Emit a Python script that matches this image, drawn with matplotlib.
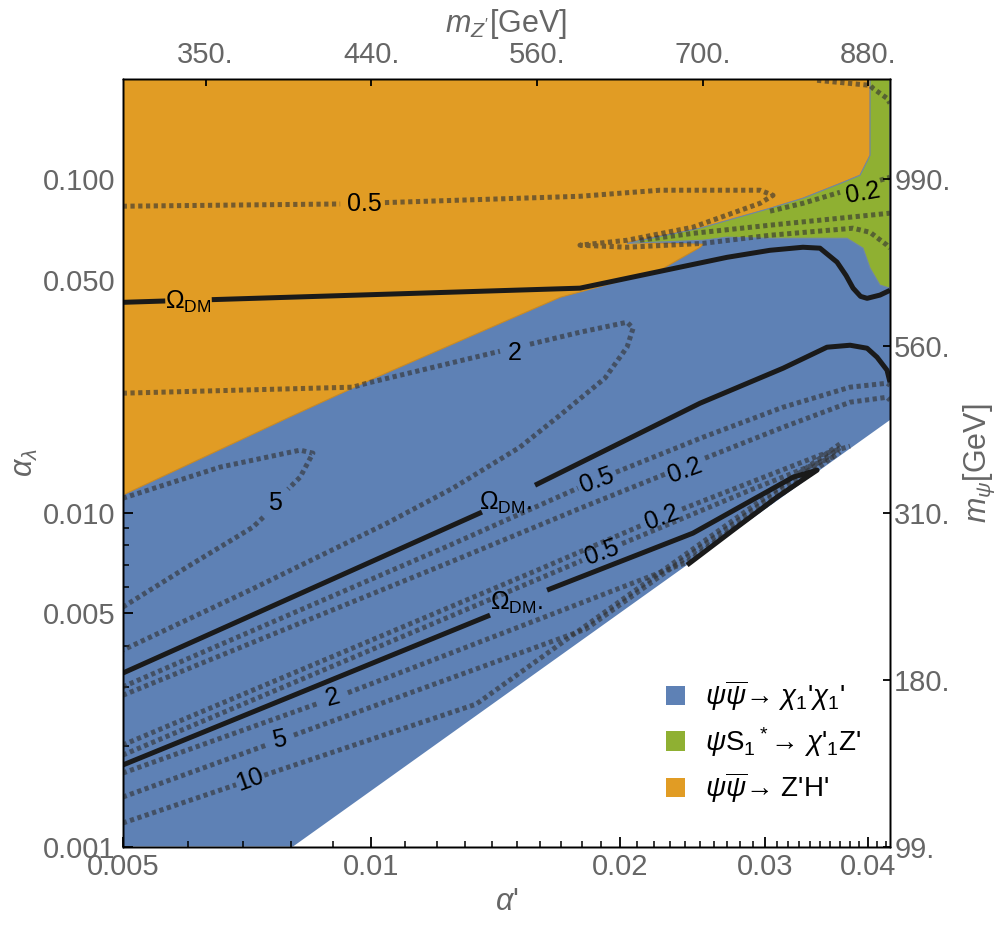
import numpy as np
import matplotlib
matplotlib.use("Agg")
import matplotlib.pyplot as plt
from matplotlib.patches import Patch
from matplotlib.ticker import NullFormatter, NullLocator

plt.rcParams["font.family"] = ["Liberation Sans", "DejaVu Sans"]
plt.rcParams["mathtext.fontset"] = "custom"
plt.rcParams["mathtext.rm"] = "Liberation Sans"
plt.rcParams["mathtext.it"] = "Liberation Sans:italic"
plt.rcParams["mathtext.bf"] = "Liberation Sans:bold"

nan = np.nan

# plot range (alpha', alpha_lambda)
x_range = (0.005, 0.0425)
y_range = (0.001, 0.2)

# lower edge of the computed domain (white below it)
edge_x = [0.00804, 0.0425]
edge_y = [0.001, 0.0190]

# Z'H' region (orange)
orange_x = [0.005, 0.0402, 0.0402, 0.03909, 0.03728, 0.03334, 0.03041, 0.02502, 0.02041,
            0.02523, 0.02502, 0.02237, 0.01693, 0.00996, 0.00791, 0.005]
orange_y = [0.2, 0.2, 0.1181, 0.1029, 0.0980, 0.0878, 0.0819, 0.0714, 0.0648,
            0.0639, 0.0626, 0.0534, 0.0443, 0.0250, 0.01924, 0.01131]

# psi S1* -> chi'1 Z' region (green)
green_x = [0.0402, 0.0425, 0.0425, 0.04133, 0.0402, 0.03942, 0.0377, 0.03041, 0.02698,
           0.02523, 0.02041, 0.02502, 0.03041, 0.03334, 0.03728, 0.03909, 0.0402]
green_y = [0.2, 0.2, 0.0472, 0.0482, 0.0542, 0.0622, 0.0666, 0.0666, 0.0671,
           0.0657, 0.0643, 0.0714, 0.0819, 0.0878, 0.0980, 0.1029, 0.1181]

# Omega_DM contours (nan = gap for the label)
omega_a_x = [0.005, 0.00563, nan, 0.00641, 0.0179, 0.02237, 0.02698, 0.03041, 0.03334,
             0.03496, 0.03666, 0.0376, 0.03834, 0.03915, 0.03987, 0.04133, 0.0425]
omega_a_y = [0.0428, 0.0432, nan, 0.0436, 0.0472, 0.0530, 0.0584, 0.0613, 0.0626,
             0.0622, 0.0565, 0.0515, 0.0472, 0.0446, 0.0440, 0.0450, 0.0465]
omega_b_x = [0.005, 0.01362, nan, 0.01579, 0.0200, 0.02502, 0.03154, 0.03565, 0.03802,
             0.03987, 0.04099, 0.04215, 0.0425]
omega_b_y = [0.00331, 0.01006, nan, 0.01211, 0.01619, 0.02133, 0.02716, 0.0314, 0.03183,
             0.03118, 0.02931, 0.02679, 0.02466]
omega_c_x = [0.005, 0.01393, nan, 0.01633, 0.02453, 0.03243, 0.03468, 0.03101, 0.02743, 0.02413]
omega_c_y = [0.001755, 0.00494, nan, 0.00587, 0.0087, 0.0128, 0.01344, 0.01115, 0.00888, 0.00698]
omega_labels = [("$\\Omega_{\\rm DM}$", 0.0060, 0.0428),
                ("$\\Omega_{\\rm DM}$.", 0.01456, 0.0107),
                ("$\\Omega_{\\rm DM}$.", 0.01502, 0.00537)]

# ratio contours (dotted)
top_x = [0.005, 0.00917, nan, 0.01039, 0.0179, 0.02237, 0.02958, 0.03067, 0.02958, 0.02453,
         0.02041, 0.0179, 0.02041, 0.02523, 0.03041, 0.03834, 0.0402, 0.04215, 0.0425]
top_y = [0.0831, 0.0844, nan, 0.0852, 0.0890, 0.0928, 0.0928, 0.0896, 0.0848, 0.0719,
         0.0657, 0.0635, 0.0626, 0.0643, 0.0680, 0.0714, 0.0694, 0.0635, 0.0622]
green1_x = [0.02116, 0.02453, 0.03041, 0.0425]
green1_y = [0.0657, 0.0689, 0.0729, 0.0792]
green2_x = [0.03041, 0.03334, 0.03697, nan, 0.04133, 0.0425]
green2_y = [0.0803, 0.0848, 0.0915, nan, 0.0994, 0.1015]
corner_x = [0.03468, 0.0402, 0.04053, 0.04215, 0.0425]
corner_y = [0.1982, 0.1914, 0.1875, 0.1750, 0.1691]
loop2_x = [0.005, 0.0095, 0.00988, 0.01432, nan, 0.01557, 0.0179, 0.02041, 0.02076, 0.02041,
           0.01919, 0.01693, 0.01514, 0.01256, 0.01045, 0.00713, 0.005]
loop2_y = [0.02286, 0.02383, 0.02449, 0.03054, nan, 0.03205, 0.03482, 0.0373, 0.0358, 0.0314,
           0.02535, 0.01964, 0.01575, 0.01187, 0.00932, 0.00587, 0.00388]
loop5_x = [0.005, 0.00656, 0.0082, 0.0085, 0.0082, 0.00793, nan, 0.0074, 0.00719, 0.00598, 0.005]
loop5_y = [0.01107, 0.01372, 0.01543, 0.01511, 0.0128, 0.01179, nan, 0.00971, 0.00907, 0.00688, 0.00522]
mid05_x = [0.005, 0.01246, 0.0178, nan, 0.01979, 0.02523, 0.03154, 0.03802, 0.04215, 0.0425]
mid05_y = [0.00301, 0.00801, 0.01187, nan, 0.01325, 0.01687, 0.02075, 0.02383, 0.02449, 0.02415]
mid02_x = [0.005, 0.01246, 0.01805, 0.02269, nan, 0.02537, 0.03154, 0.03802, 0.04215, 0.0425]
mid02_y = [0.00284, 0.00712, 0.01041, 0.01307, nan, 0.0146, 0.01807, 0.02148, 0.02223, 0.02178]
low02_x = [0.005, 0.01601, 0.02128, nan, 0.0238, 0.03496, 0.03802]
low02_y = [0.002015, 0.00679, 0.00919, nan, 0.01027, 0.0149, 0.01586]
low05_x = [0.005, 0.018, nan, 0.02013, 0.02876, 0.03646]
low05_y = [0.00188, 0.0072, nan, 0.00809, 0.0117, 0.0148]
low2_x = [0.005, 0.00862, nan, 0.00937, 0.02413, 0.03697]
low2_y = [0.00166, 0.002685, nan, 0.00289, 0.00712, 0.01525]
low5_x = [0.005, 0.00746, nan, 0.00806, 0.0182, 0.03697]
low5_y = [0.001407, 0.002013, nan, 0.002158, 0.004486, 0.01567]
low10_x = [0.005, 0.00686, nan, 0.00742, 0.0134, 0.03697]
low10_y = [0.001176, 0.001532, nan, 0.001636, 0.002673, 0.01611]

# contour labels: text, alpha', alpha_lambda, rotation
ratio_labels = [("0.5", 0.0098, 0.0846, 0), ("2", 0.01494, 0.0301, 0),
                ("5", 0.00765, 0.0107, 0), ("0.5", 0.01877, 0.01254, 20),
                ("0.2", 0.0240, 0.01344, 20), ("0.2", 0.0225, 0.00971, 20),
                ("0.5", 0.01904, 0.00763, 20), ("2", 0.00899, 0.00279, 15),
                ("5", 0.00775, 0.002085, 12), ("10", 0.00713, 0.001583, 20),
                ("0.2", 0.03942, 0.0909, 10)]

# axis ticks
x_ticks = [0.005, 0.01, 0.02, 0.03, 0.04]
x_ticklabels = ["0.005", "0.01", "0.02", "0.03", "0.04"]
y_ticks = [0.001, 0.005, 0.01, 0.05, 0.1]
y_ticklabels = ["0.001", "0.005", "0.010", "0.050", "0.100"]
mz_ticks = [0.0063, 0.01, 0.01587, 0.0252, 0.04]
mz_labels = ["350.", "440.", "560.", "700.", "880."]
mpsi_ticks = [0.001, 0.00316, 0.01, 0.0316, 0.1]
mpsi_labels = ["99.", "180.", "310.", "560.", "990."]

legend_labels = ["$\\psi\\overline{\\psi}$\u2192 $\\chi_1$'$\\chi_1$'",
                 "$\\psi$S$_1$$^*$\u2192 $\\chi$'$_1$Z'",
                 "$\\psi\\overline{\\psi}$\u2192 Z'H'"]

blue = "#5e81b5"
green = "#8fb032"
orange = "#e19c24"
gray = "#666666"

fig = plt.figure(figsize=(10, 9.27), dpi=100)
ax = fig.add_axes([0.1227, 0.0868, 0.7673, 0.8280])
ax.set_xscale("log")
ax.set_yscale("log")

# regions
blue_x = [x_range[0], edge_x[0], edge_x[1], x_range[1], x_range[0]]
blue_y = [y_range[0], edge_y[0], edge_y[1], y_range[1], y_range[1]]
ax.fill(blue_x, blue_y, color=blue, lw=0, zorder=1)
ax.fill(orange_x, orange_y, facecolor=orange, edgecolor="#c98a24", lw=0.8, zorder=2)
ax.fill(green_x, green_y, facecolor=green, edgecolor="#6f86a8", lw=0.8, zorder=2)

dot = dict(color="#333333", alpha=0.62, lw=3.6, linestyle=(0, (0.85, 0.7)),
           dash_capstyle="butt", zorder=3)
for xs, ys in [(top_x, top_y), (green1_x, green1_y), (green2_x, green2_y),
               (corner_x, corner_y), (loop2_x, loop2_y), (loop5_x, loop5_y),
               (mid05_x, mid05_y), (mid02_x, mid02_y), (low02_x, low02_y),
               (low05_x, low05_y), (low2_x, low2_y), (low5_x, low5_y),
               (low10_x, low10_y)]:
    ax.plot(xs, ys, **dot)

for xs, ys in [(omega_a_x, omega_a_y), (omega_b_x, omega_b_y), (omega_c_x, omega_c_y)]:
    ax.plot(xs, ys, color="#1a1a1a", lw=3.6, solid_capstyle="butt",
            solid_joinstyle="round", zorder=4)

for txt, xv, yv in omega_labels:
    ax.text(xv, yv, txt, fontsize=18, ha="center", va="center", color="black", zorder=5)
for txt, xv, yv, rot in ratio_labels:
    ax.text(xv, yv, txt, fontsize=18, ha="center", va="center", rotation=rot,
            rotation_mode="anchor", color="black", zorder=5)

ax.set_xlim(*x_range)
ax.set_ylim(*y_range)

# bottom / left axes
ax.set_xticks(x_ticks)
ax.set_xticklabels(x_ticklabels)
ax.set_xticks([v / 1000 for v in range(6, 43) if v not in (10, 20, 30, 40)], minor=True)
ax.set_yticks(y_ticks)
ax.set_yticklabels(y_ticklabels)
y_minor = [m * 10.0 ** e for e in (-3, -2, -1) for m in range(2, 10)
           if m * 10.0 ** e < 0.2 and m != 5]
ax.set_yticks(y_minor, minor=True)
ax.xaxis.set_minor_formatter(NullFormatter())
ax.yaxis.set_minor_formatter(NullFormatter())
ax.tick_params(axis="both", which="both", direction="in", colors="black",
               labelcolor=gray, labelsize=21)
ax.tick_params(axis="both", which="major", length=7, width=1.3)
ax.tick_params(axis="both", which="minor", length=4, width=1.1)
ax.tick_params(axis="x", pad=5)
ax.tick_params(axis="y", pad=5)
ax.set_xlabel("$\\alpha$'", fontsize=22, color=gray, labelpad=4)
ax.set_ylabel("$\\alpha_\\lambda$", fontsize=22, color=gray, labelpad=2)

# top axis: m_Z'
ax_top = ax.twiny()
ax_top.set_xscale("log")
ax_top.set_xlim(*x_range)
ax_top.set_xticks(mz_ticks)
ax_top.set_xticklabels(mz_labels)
ax_top.xaxis.set_minor_locator(NullLocator())
ax_top.tick_params(axis="x", direction="in", length=5, width=1.3, labelsize=21,
                   labelcolor=gray, pad=7)
ax_top.set_xlabel("$m_{Z'}$[GeV]", fontsize=22, color=gray, labelpad=7)

# right axis: m_psi
ax_right = ax.twinx()
ax_right.set_yscale("log")
ax_right.set_ylim(*y_range)
ax_right.set_yticks(mpsi_ticks)
ax_right.set_yticklabels(mpsi_labels)
ax_right.yaxis.set_minor_locator(NullLocator())
ax_right.tick_params(axis="y", direction="in", length=5, width=1.3, labelsize=21,
                     labelcolor=gray, pad=3)
ax_right.set_ylabel("$m_\\psi$[GeV]", fontsize=22, color=gray, labelpad=8)

for a in (ax, ax_top, ax_right):
    for s in a.spines.values():
        s.set_linewidth(1.0)

handles = [Patch(facecolor=c, edgecolor="none") for c in (blue, green, orange)]
ax.legend(handles, legend_labels, loc="upper left", bbox_to_anchor=(0.708, 0.219),
          frameon=False, fontsize=20, handlelength=0.7, handleheight=0.7,
          handletextpad=0.7, labelspacing=0.42, borderpad=0, borderaxespad=0)

fig.savefig("out.png", dpi=100)
